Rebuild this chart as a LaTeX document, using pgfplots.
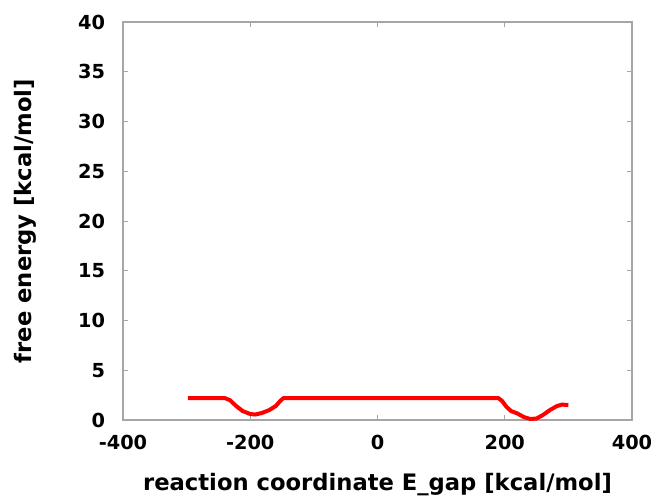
\documentclass[border=0pt]{standalone}
\usepackage{fontspec}
\setmainfont{DejaVu Sans}
\usepackage{pgfplots}
\pgfplotsset{compat=1.18}
\begin{document}
\begin{tikzpicture}[x=0.75pt,y=0.75pt]
\useasboundingbox (-123,-77) rectangle (535,420);
\begin{axis}[
  at={(0,0)}, anchor=south west,
  scale only axis,
  width=381.75pt, height=298.5pt,
  xmin=-400, xmax=400, ymin=0, ymax=40,
  xtick={-400,-200,0,200,400},
  ytick={0,5,...,40},
  tick align=inside,
  major tick length=4pt,
  axis line style={draw=gray!70, line width=0.8pt},
  tick style={draw=gray!70, line width=0.6pt},
  ticklabel style={font=\fontsize{14.5}{16}\selectfont\bfseries},
  /pgf/number format/assume math mode=true,
  label style={font=\fontsize{17}{19}\selectfont\bfseries},
  xlabel={reaction coordinate E\_gap [kcal/mol]},
  ylabel={free energy [kcal/mol]},
  xlabel style={at={(axis description cs:0.5,0)}, anchor=center, yshift=-48.75pt},
  ylabel style={at={(axis description cs:0,0.5)}, anchor=center, yshift=73.5pt},
  xticklabel style={yshift=-8pt},
  yticklabel style={xshift=-10pt},
]
\addplot[red, line width=3pt, line join=round] coordinates {
(-298,2.2) (-270,2.2) (-240,2.2) (-232,2.0) (-222,1.4) (-212,0.9) (-200,0.6) (-192,0.55) (-182,0.7) (-170,1.0) (-160,1.4) (-153,1.9) (-148,2.2)
(-100,2.2) (0,2.2) (100,2.2) (190,2.2) (196,1.9) (203,1.3) (210,0.9) (220,0.65) (230,0.3) (240,0.1) (250,0.15) (260,0.5) (271,1.0) (282,1.4) (290,1.55) (300,1.5)
};
\end{axis}
\end{tikzpicture}
\end{document}
